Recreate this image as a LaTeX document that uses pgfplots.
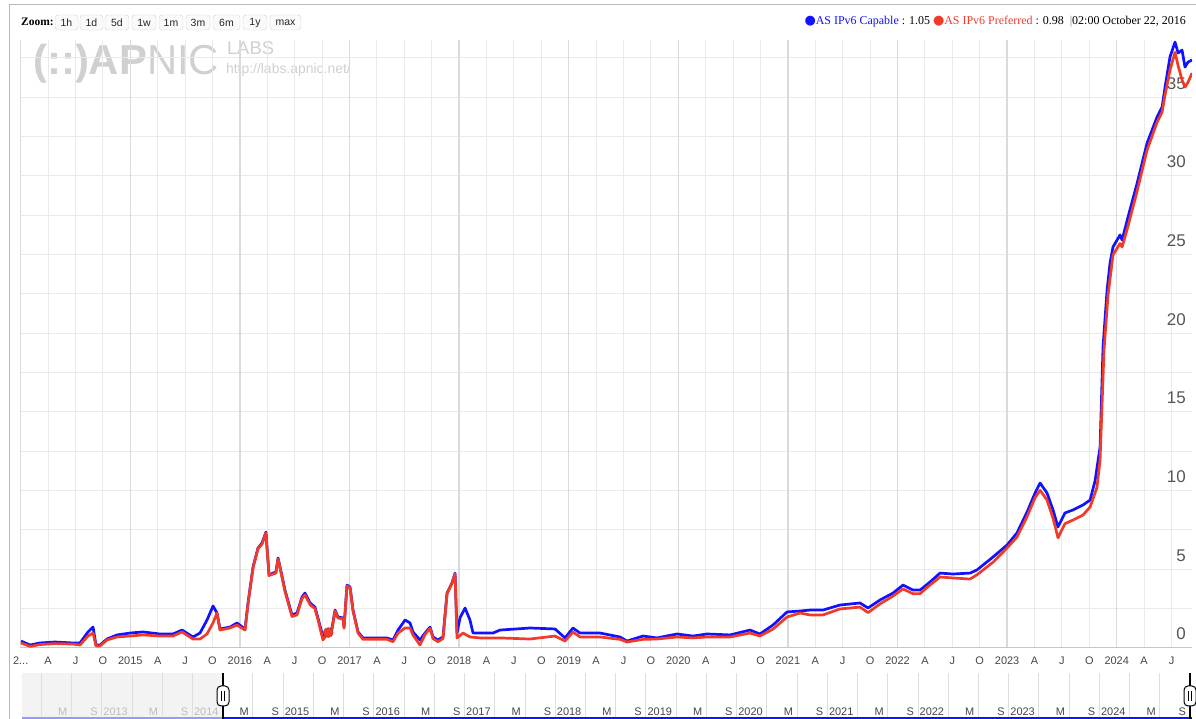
\documentclass[border=0pt]{standalone}
\usepackage{pgfplots}
\pgfplotsset{compat=1.18}
\usepackage{fontspec}
\setmainfont{Liberation Sans}
\newfontfamily\seriffont{Liberation Serif}
\newfontfamily\dejavu{DejaVu Sans}
\definecolor{capblue}{RGB}{18,18,255}
\definecolor{prefred}{RGB}{240,58,42}
\definecolor{gridc}{RGB}{234,234,238}
\definecolor{yeargrid}{RGB}{218,218,218}
\definecolor{ticklab}{RGB}{70,70,70}
\definecolor{ylab}{RGB}{85,85,85}
\definecolor{wm}{RGB}{208,208,208}
\definecolor{navshade}{RGB}{243,243,243}
\definecolor{navgrid}{RGB}{222,222,222}
\definecolor{navlight}{RGB}{190,190,190}

\pgfplotstableread{
x y
0.003 0.44
0.085 0.19
0.176 0.32
0.313 0.38
0.477 0.32
0.541 0.32
0.614 1.02
0.660 1.33
0.687 0.19
0.724 0.19
0.787 0.57
0.879 0.83
0.997 0.95
1.116 1.02
1.271 0.89
1.389 0.89
1.472 1.14
1.572 0.70
1.636 0.95
1.700 1.78
1.755 2.67
1.791 2.22
1.818 1.21
1.910 1.33
1.973 1.59
2.047 1.21
2.074 2.86
2.120 5.15
2.165 6.35
2.202 6.67
2.238 7.37
2.247 6.42
2.266 4.64
2.302 4.76
2.329 4.83
2.348 5.72
2.366 5.15
2.411 3.68
2.475 2.10
2.521 2.22
2.567 3.24
2.594 3.49
2.640 2.86
2.685 2.60
2.712 1.91
2.758 0.70
2.806 1.05
2.840 1.27
2.868 2.41
2.895 1.97
2.941 1.91
2.950 1.33
2.977 4.00
3.005 3.88
3.032 2.41
3.078 1.02
3.123 0.64
3.214 0.64
3.342 0.64
3.397 0.51
3.443 1.14
3.507 1.78
3.552 1.59
3.579 1.02
3.643 0.51
3.689 0.95
3.735 1.33
3.762 0.70
3.807 0.51
3.853 0.70
3.890 3.49
3.935 4.13
3.963 4.76
3.981 0.95
4.008 1.91
4.054 2.54
4.099 1.78
4.127 0.95
4.191 0.95
4.309 0.95
4.373 1.14
4.647 1.27
4.875 1.21
4.966 0.64
5.039 1.27
5.103 0.95
5.286 0.95
5.468 0.70
5.532 0.44
5.678 0.76
5.806 0.64
5.988 0.89
6.134 0.76
6.262 0.89
6.472 0.83
6.654 1.14
6.745 0.89
6.864 1.46
6.992 2.29
7.111 2.35
7.201 2.41
7.320 2.41
7.475 2.73
7.658 2.86
7.731 2.54
7.840 3.05
7.959 3.49
8.050 4.00
8.141 3.68
8.205 3.68
8.296 4.19
8.388 4.76
8.506 4.70
8.662 4.76
8.725 4.96
8.871 5.78
8.999 6.54
9.090 7.31
9.182 8.64
9.255 9.85
9.301 10.48
9.364 9.85
9.419 8.77
9.464 7.69
9.528 8.58
9.601 8.77
9.693 9.09
9.757 9.40
9.802 10.61
9.848 12.77
9.875 19.12
9.912 22.74
9.939 24.46
9.966 25.48
10.030 26.24
10.049 25.92
10.103 27.38
10.185 29.50
10.277 32.08
10.368 33.74
10.414 34.37
10.441 35.64
10.486 37.55
10.532 38.50
10.560 37.80
10.596 37.99
10.623 36.91
10.651 37.23
10.687 37.36
}\capable

\pgfplotstableread{
x y
0.003 0.32
0.085 0.10
0.176 0.22
0.313 0.28
0.477 0.25
0.541 0.19
0.614 0.76
0.660 0.95
0.687 0.13
0.724 0.13
0.787 0.51
0.879 0.70
0.997 0.76
1.116 0.83
1.271 0.76
1.389 0.76
1.472 1.02
1.572 0.57
1.636 0.57
1.700 0.89
1.755 1.60
1.791 2.22
1.818 1.14
1.910 1.27
1.973 1.46
2.047 1.14
2.074 2.80
2.120 5.10
2.165 6.30
2.202 6.60
2.238 7.31
2.247 6.40
2.266 4.60
2.302 4.70
2.329 4.76
2.348 5.65
2.366 5.10
2.411 3.60
2.475 2.00
2.521 2.10
2.567 3.15
2.594 3.37
2.640 2.75
2.685 2.50
2.712 1.80
2.758 0.51
2.806 0.98
2.840 1.15
2.868 2.35
2.895 1.90
2.941 1.85
2.950 1.25
2.977 3.95
3.005 3.82
3.032 2.35
3.078 0.95
3.123 0.55
3.214 0.55
3.342 0.55
3.397 0.40
3.443 0.95
3.507 1.27
3.552 1.27
3.579 0.83
3.643 0.19
3.689 0.85
3.735 1.25
3.762 0.60
3.807 0.40
3.853 0.60
3.890 3.45
3.935 4.10
3.963 4.72
3.981 0.64
4.036 0.95
4.099 0.70
4.191 0.64
4.309 0.64
4.373 0.64
4.647 0.57
4.875 0.76
4.966 0.44
5.039 1.02
5.103 0.70
5.286 0.70
5.468 0.55
5.532 0.38
5.678 0.55
5.806 0.57
5.988 0.70
6.134 0.64
6.262 0.70
6.472 0.70
6.654 0.95
6.745 0.76
6.864 1.20
6.992 1.97
7.111 2.22
7.201 2.10
7.320 2.10
7.475 2.48
7.658 2.60
7.731 2.25
7.840 2.80
7.959 3.30
8.050 3.75
8.141 3.45
8.205 3.45
8.296 4.00
8.388 4.51
8.506 4.45
8.662 4.38
8.725 4.65
8.871 5.45
8.999 6.35
9.090 7.05
9.182 8.35
9.255 9.55
9.301 10.02
9.364 9.40
9.419 8.25
9.464 7.00
9.528 7.90
9.601 8.13
9.693 8.45
9.757 8.96
9.820 10.20
9.848 11.94
9.884 18.93
9.921 22.43
9.966 24.97
10.030 25.70
10.049 25.48
10.103 26.80
10.185 29.00
10.277 31.64
10.368 33.40
10.414 34.05
10.441 35.13
10.486 36.72
10.532 37.85
10.560 37.00
10.596 36.09
10.623 35.64
10.651 35.95
10.687 36.53
}\preferred

\begin{document}
\begin{tikzpicture}[x=1bp,y=1bp]
\path[use as bounding box] (0,0) rectangle (1196,719);
% outer frame
\draw[gray!55, line width=1bp] (9,-5) -- (9,714) -- (1210,714);

% watermark
\node[anchor=base west, inner sep=0pt, text=wm] at (33,644)
  {\fontsize{42}{42}\selectfont\bfseries (::)AP\mdseries NIC};
\node[anchor=north west, inner sep=0pt, outer sep=0pt, text=wm] at (227,677)
  {\vbox{\offinterlineskip
     \hbox{\fontsize{18.5}{18.5}\selectfont LABS}
     \kern 8.5bp
     \hbox{\kern-1bp\fontsize{14}{14}\selectfont http://labs.apnic.net/}}};

% zoom bar
\node[anchor=base west, inner sep=0pt] at (21,693.5)
  {\seriffont\bfseries\fontsize{11.5}{13}\selectfont Zoom:};
\foreach \a/\b/\t in {55/78/1h,80/103/1d,105/129/5d,132/156/1w,159/183/1m,186/210/3m,213/240/6m,243/267/1y,270/301/max}{
  \pgfmathsetmacro\c{(\a+\b)/2}
  \pgfmathsetmacro\w{\b-\a}
  \node[draw=gray!35, fill=gray!4, rounded corners=3bp, minimum width=\w bp, minimum height=15bp, inner sep=0pt,
        font=\fontsize{10.5}{12}\selectfont, text=black!85] at (\c,696.5) {\t};
}

% legend
\node[anchor=base east, inner sep=0pt] at (1186,694)
 {\seriffont\fontsize{12}{14}\selectfont
  {\dejavu\fontsize{13}{13}\selectfont\color{capblue}●}{\color{capblue}AS IPv6 Capable} : 1.05
  {\dejavu\fontsize{13}{13}\selectfont\color{prefred}●}{\color{prefred}AS IPv6 Preferred} : 0.98 \ {\color{gray}|}02:00 October 22, 2016};

% main chart
\begin{axis}[
  at={(20.7bp,71bp)}, anchor=south west,
  scale only axis, width=1171.3bp, height=608bp,
  xmin=0, xmax=10.687, ymin=0, ymax=38.63,
  axis line style={draw=none},
  major tick length=0pt, minor tick length=0pt,
  xtick={0,0.25,...,10.55},
  xticklabels={2{.}{.}{.},A,J,O,2015,A,J,O,2016,A,J,O,2017,A,J,O,2018,A,J,O,2019,A,J,O,2020,A,J,O,2021,A,J,O,2022,A,J,O,2023,A,J,O,2024,A,J},
  extra x ticks={0,1,...,10}, extra x tick labels={},
  extra x tick style={grid style={yeargrid, line width=1.4bp}},
  ytick={0,5,...,35}, yticklabels={0,5,10,15,20,25,30,35},
  minor ytick={2.5,7.5,...,37.5},
  xmajorgrids, ymajorgrids, yminorgrids,
  grid style={gridc, line width=1bp},
  minor grid style={gridc, line width=1bp},
  yticklabel pos=right,
  xticklabel style={font=\fontsize{11}{13}\selectfont, text=ticklab, anchor=north, inner sep=0pt, yshift=-9bp},
  yticklabel style={font=\fontsize{17}{20}\selectfont, text=ylab, anchor=base east, inner sep=0pt, xshift=-6bp, yshift=8bp},
]
\draw[gray!45, line width=1.2bp] (rel axis cs:0,0) -- (rel axis cs:1,0);
\addplot[capblue, line width=2.7bp, line join=round, mark=none] table[x=x,y=y] {\capable};
\addplot[prefred, line width=2.7bp, line join=round, mark=none] table[x=x,y=y] {\preferred};
\addplot[only marks, mark=*, mark size=5bp, color=prefred, mark options={fill=prefred, draw=prefred!75!black}] coordinates {(2.806,0.98)};
\end{axis}

% navigator
\fill[navshade] (22,0) rectangle (223,46);
\begin{axis}[
  at={(22bp,0bp)}, anchor=south west,
  scale only axis, width=1170bp, height=46bp,
  xmin=-2.213, xmax=10.687, ymin=0, ymax=46,
  axis line style={draw=none},
  major tick length=0pt, ytick=\empty,
  xtick={-2,-1.66667,...,10.7},
  xticklabels={{},{\color{navlight}M},{\color{navlight}S},{\color{navlight}2013},{\color{navlight}M},{\color{navlight}S},{\color{navlight}2014},
    M,S,2015,M,S,2016,M,S,2017,M,S,2018,M,S,2019,M,S,2020,M,S,2021,M,S,2022,M,S,2023,M,S,2024,M,S},
  xmajorgrids, grid style={navgrid, line width=1bp},
  xticklabel style={font=\fontsize{11}{13}\selectfont, text=ticklab, anchor=base east, inner sep=0pt, xshift=-4bp, yshift=3bp},
]
\addplot[capblue, line width=1.6bp, mark=none] coordinates {(-2.213,1.2) (10.687,1.2)};
\end{axis}
\fill[navshade, opacity=0.6] (22,0) rectangle (222,4);
% handles
\draw[black, line width=1.2bp] (223,0) -- (223,46);
\draw[black, line width=1bp, fill=white, rounded corners=4bp] (217,13) rectangle (229,33);
\draw[black, line width=0.8bp] (221.5,18) -- (221.5,28) (224.5,18) -- (224.5,28);
\draw[black, line width=1.2bp] (1190,0) -- (1190,46);
\draw[black, line width=1bp, fill=white, rounded corners=4bp] (1184,13) rectangle (1196,33);
\draw[black, line width=0.8bp] (1188.5,18) -- (1188.5,28) (1191.5,18) -- (1191.5,28);
\end{tikzpicture}
\end{document}
